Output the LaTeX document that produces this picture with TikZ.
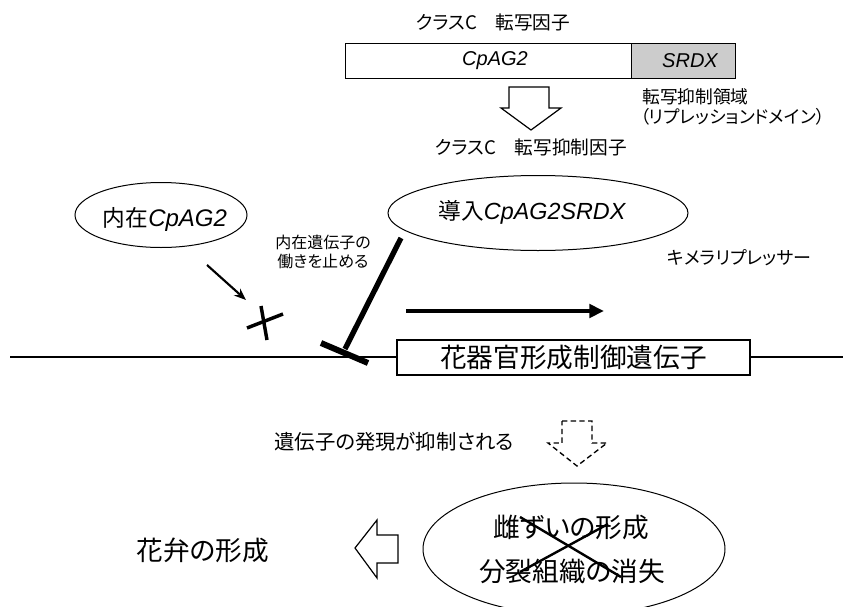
\documentclass[tikz,border=0pt]{standalone}
\usepackage{fontspec}
\newfontfamily\jp[RawFeature=+palt]{Noto Sans CJK JP}
\newfontfamily\lat{Liberation Sans}
\usetikzlibrary{arrows.meta,shapes.geometric}
\tikzset{
  jtxt/.style={inner sep=0pt, font=\jp\fontsize{14}{16}\selectfont},
  btxt/.style={inner sep=0pt, font=\jp\fontsize{20}{22}\selectfont},
  oval/.style={draw, ellipse, inner sep=0pt, line width=0.75pt},
  blockarrow/.style={draw, line width=0.9pt, fill=white, line join=miter},
}
\begin{document}
\begin{tikzpicture}[x=0.75pt,y=-0.75pt]
\useasboundingbox (0,0) rectangle (843,607);
% top factor
\node[jtxt] (clsC) at (493,22) {クラスC　転写因子};
\draw[line width=0.7pt] (345,43) rectangle (631,78);
\draw[line width=0.7pt, fill=black!20] (631,43) rectangle (735,78);
\node[inner sep=0pt, font=\lat\itshape\fontsize{15}{17}\selectfont] (cp) at (495,61) {CpAG2};
\node[inner sep=0pt, font=\lat\itshape\fontsize{15}{17}\selectfont] (srdx) at (690,61) {SRDX};
\draw[blockarrow] (509,87) -- (549,87) -- (549,108) -- (561,108) -- (531,130) -- (501,108) -- (509,108) -- cycle;
\node[jtxt, anchor=west, font=\jp\fontsize{13.3}{15}\selectfont] (dom1) at (642,97) {転写抑制領域};
\node[jtxt, anchor=west, font=\jp\fontsize{13.3}{15}\selectfont] (dom2) at (640,117) {（リプレッションドメイン）};
\node[jtxt] (clsR) at (531,147) {クラスC　転写抑制因子};
% ellipses
\node[oval, minimum width=172*0.75pt, minimum height=65*0.75pt] (endo) at (161,215) {};
\node[inner sep=0pt] (endotxt) at (165,219) {\jp\fontsize{17}{19}\selectfont 内在\lat\itshape\fontsize{18}{20}\selectfont CpAG2};
\node[oval, minimum width=300*0.75pt, minimum height=75*0.75pt] (intro) at (538,213) {};
\node[inner sep=0pt] (introtxt) at (532,212) {\jp\fontsize{17}{19}\selectfont 導入\lat\itshape\fontsize{17.5}{20}\selectfont CpAG2SRDX};
\node[inner sep=0pt, align=center, font=\jp\fontsize{12}{14.3}\selectfont] (stop) at (323,252) {内在遺伝子の\\働きを止める};
\node[jtxt, anchor=west, font=\jp\fontsize{13.5}{15}\selectfont] (chim) at (667,258) {キメラリプレッサー};
% DNA line and gene box
\coordinate (L0) at (10,357);
\coordinate (L1) at (843,357);
\draw[line width=2.2pt] (L0) -- (L1);
\node[draw, line width=2pt, fill=white, minimum width=353*0.75pt, minimum height=35*0.75pt, inner sep=0pt, font=\jp\fontsize{20}{22}\selectfont] (gene) at (573.5,357.5) {花器官形成制御遺伝子};
% arrow to cross
\coordinate (a0) at (207,265);
\coordinate (a1) at (246,300);
\draw[line width=1.6pt, -{Stealth[length=9pt,width=7pt]}] (a0) -- (a1);
\coordinate (c1) at (247,328); \coordinate (c2) at (283,314);
\coordinate (c3) at (261,306); \coordinate (c4) at (267,340);
\draw[line width=2.6pt] (c1) -- (c2);
\draw[line width=2.6pt] (c3) -- (c4);
% T bar
\coordinate (t0) at (401,238);
\coordinate (t1) at (345,349);
\coordinate (b0) at (321,343); \coordinate (b1) at (368,363);
\draw[line width=4pt] (t0) -- (t1);
\draw[line width=4.5pt] (b0) -- (b1);
% thick arrow
\coordinate (h0) at (406,311);
\coordinate (h1) at (604,311);
\draw[line width=3.2pt, -{Triangle[length=11pt,width=10pt]}] (h0) -- (h1);
% bottom
\node[inner sep=0pt, font=\jp\fontsize{15.3}{17}\selectfont] (expr) at (394,442) {遺伝子の発現が抑制される};
\draw[line width=1pt, dashed, dash pattern=on 4pt off 2.5pt, line join=miter] (562,421) -- (592,421) -- (592,443) -- (607,443) -- (577,466) -- (548,443) -- (562,443) -- cycle;
\node[btxt] (petal) at (203,550) {花弁の形成};
\draw[blockarrow] (355,548) -- (377,520) -- (377,535) -- (398,535) -- (398,563) -- (377,563) -- (377,578) -- cycle;
\node[oval, minimum width=302*0.75pt, minimum height=132*0.75pt] (res) at (574,549) {};
\node[btxt] (pist) at (571,527) {雌ずいの形成};
\node[btxt] (meri) at (572,571) {分裂組織の消失};
\coordinate (x1) at (520,517); \coordinate (x2) at (621,577);
\coordinate (x3) at (520,572); \coordinate (x4) at (608,524);
\draw[line width=1.8pt] (x1) -- (x2);
\draw[line width=1.8pt] (x3) -- (x4);
\end{tikzpicture}
\end{document}
